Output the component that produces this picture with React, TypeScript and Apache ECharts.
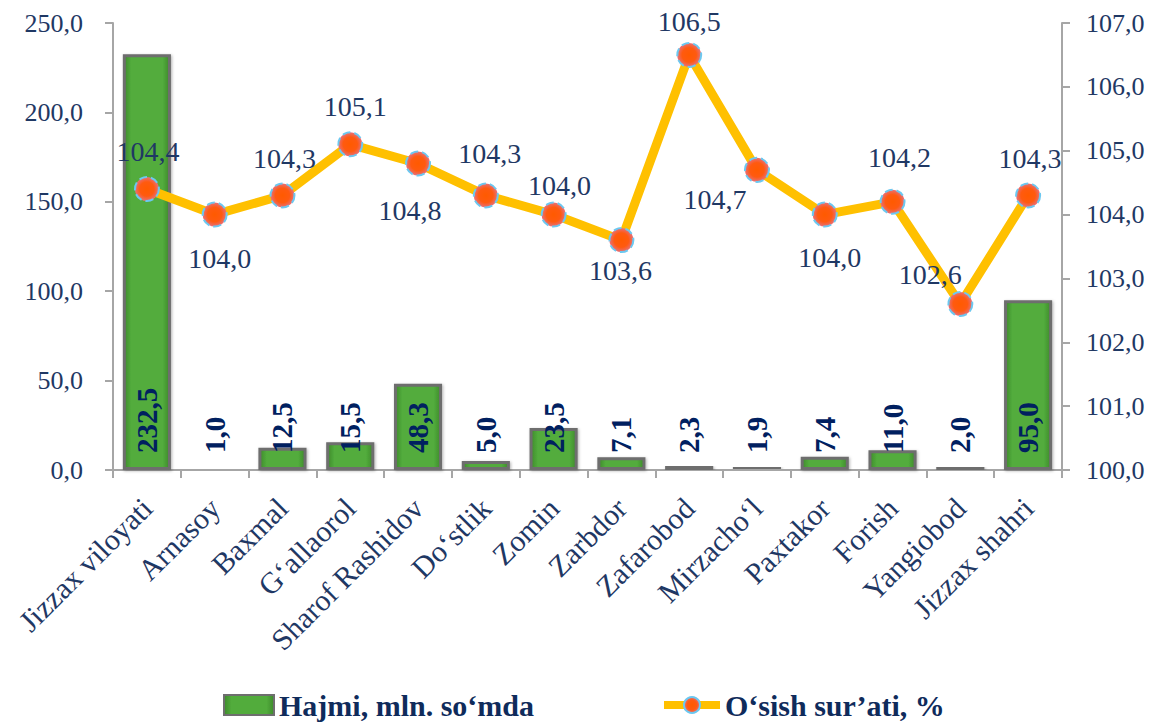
import React, { useEffect, useRef } from "react";
import * as echarts from "echarts";

const categories = [
  "Jizzax viloyati", "Arnasoy", "Baxmal", "G‘allaorol", "Sharof Rashidov", "Do‘stlik", "Zomin",
  "Zarbdor", "Zafarobod", "Mirzacho‘l", "Paxtakor", "Forish", "Yangiobod", "Jizzax shahri",
];
const volumeValues = [232.5, 1.0, 12.5, 15.5, 48.3, 5.0, 23.5, 7.1, 2.3, 1.9, 7.4, 11.0, 2.0, 95.0];
const growthValues = [104.4, 104.0, 104.3, 105.1, 104.8, 104.3, 104.0, 103.6, 106.5, 104.7, 104.0, 104.2, 102.6, 104.3];
const growthLabelOffsets: [number, number][] = [
  [1, -38], [5, 44], [2, -37], [5, -38], [-8, 47], [4, -42], [6, -29],
  [-1, 30], [0, -33], [-42, 30], [5, 43], [7, -44], [-30, -29], [2, -37],
];
const volumeName = "Hajmi, mln. so‘mda";
const growthName = "O‘sish sur’ati, %";

const fmt = (v: number) => v.toFixed(1).replace(".", ",");
const FONT = "Liberation Serif";
const NAVY = "#1F3864";

export default function App() {
  const ref = useRef<HTMLDivElement>(null);
  useEffect(() => {
    if (!ref.current) return;
    const chart = echarts.init(ref.current, null, { renderer: "svg" });
    const barFill = new echarts.graphic.LinearGradient(0, 0, 1, 0, [
      { offset: 0, color: "#3E8A2C" },
      { offset: 0.15, color: "#52AC3C" },
      { offset: 0.85, color: "#52AC3C" },
      { offset: 1, color: "#3E8A2C" },
    ]);
    const markerFill = new echarts.graphic.RadialGradient(0.5, 0.5, 0.5, [
      { offset: 0, color: "#FF5A00" },
      { offset: 0.6, color: "#FF5A10" },
      { offset: 1, color: "#E8707A" },
    ]);
    const legendText = { fontFamily: FONT, fontSize: 30, fontWeight: "bold", color: "#0F2B5B" };
    chart.setOption({
      animation: false,
      textStyle: { fontFamily: FONT },
      grid: { left: 113, right: 90, top: 23, bottom: 254, containLabel: false },
      legend: [
        {
          top: 685,
          left: 218,
          itemWidth: 50,
          itemHeight: 20,
          textStyle: legendText,
          data: [{ name: volumeName, icon: "rect" }],
        },
        {
          top: 685,
          left: 655,
          itemWidth: 56,
          itemHeight: 20,
          textStyle: legendText,
          data: [{ name: growthName, lineStyle: { width: 8, color: "#FFC000" } }],
        },
      ],
      xAxis: {
        type: "category",
        data: categories,
        axisLine: { lineStyle: { color: "#A6A6A6", width: 2 } },
        axisTick: { show: true, length: 8, lineStyle: { color: "#A6A6A6", width: 2 } },
        axisLabel: {
          rotate: 45,
          interval: 0,
          fontFamily: FONT,
          fontSize: 30,
          color: NAVY,
          margin: 33,
        },
      },
      yAxis: [
        {
          type: "value",
          min: 0,
          max: 250,
          interval: 50,
          axisLine: { show: true, lineStyle: { color: "#A6A6A6", width: 2 } },
          axisTick: { show: true, length: 8, lineStyle: { color: "#A6A6A6", width: 2 } },
          splitLine: { show: false },
          axisLabel: { formatter: (v: number) => fmt(v), fontFamily: FONT, fontSize: 26, color: NAVY, margin: 30 },
        },
        {
          type: "value",
          min: 100,
          max: 107,
          interval: 1,
          axisLine: { show: true, lineStyle: { color: "#A6A6A6", width: 2 } },
          axisTick: { show: true, length: 8, lineStyle: { color: "#A6A6A6", width: 2 } },
          splitLine: { show: false },
          axisLabel: { formatter: (v: number) => fmt(v), fontFamily: FONT, fontSize: 26, color: NAVY, margin: 24 },
        },
      ],
      series: [
        {
          name: volumeName,
          type: "bar",
          yAxisIndex: 0,
          barWidth: "71%",
          barMinHeight: 3,
          data: volumeValues,
          itemStyle: {
            color: barFill,
            borderColor: "#6E6E6E",
            borderWidth: 3,
            shadowColor: "rgba(0,0,0,0.3)",
            shadowBlur: 3,
            shadowOffsetX: 1,
            shadowOffsetY: 1,
          },
          label: {
            show: true,
            position: "insideBottom",
            rotate: 90,
            align: "left",
            verticalAlign: "middle",
            distance: 17,
            formatter: (p: any) => fmt(p.value),
            fontFamily: FONT,
            fontSize: 29,
            fontWeight: "bold",
            color: "#002060",
          },
          z: 3,
        },
        {
          name: growthName,
          type: "line",
          yAxisIndex: 1,
          data: growthValues.map((v, i) => ({
            value: v,
            label: { offset: growthLabelOffsets[i] },
          })),
          lineStyle: { color: "#FFC000", width: 9 },
          symbol: "circle",
          symbolSize: 24,
          itemStyle: {
            color: markerFill,
            borderColor: "#6CC8F0",
            borderWidth: 2,
            borderType: "dashed",
          },
          label: {
            show: true,
            position: "inside",
            formatter: (p: any) => fmt(p.value),
            fontFamily: FONT,
            fontSize: 28,
            color: NAVY,
          },
          z: 5,
        },
      ],
    });
    return () => chart.dispose();
  }, []);
  return (
    <div
      ref={ref}
      style={{ position: "absolute", left: 0, top: 0, width: 1152, height: 724 }}
    />
  );
}
